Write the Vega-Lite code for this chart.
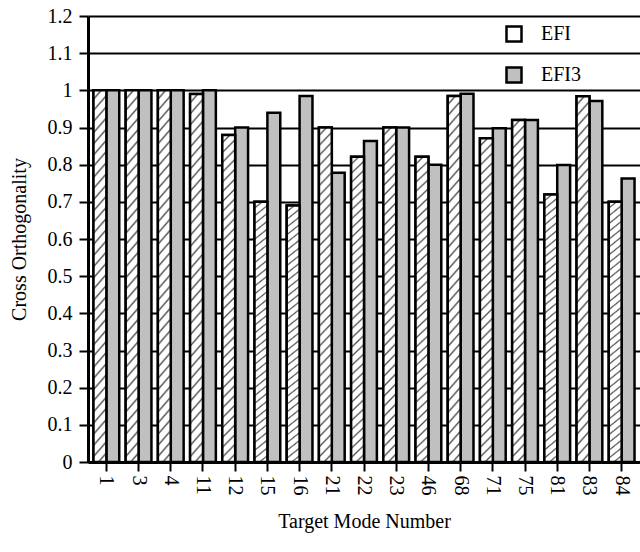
{
  "$schema": "https://vega.github.io/schema/vega-lite/v6.json",
  "width": 552,
  "height": 446,
  "autosize": "none",
  "padding": {"left": 88, "top": 16, "right": 0, "bottom": 90},
  "background": "white",
  "config": {
    "font": "Liberation Serif",
    "view": {"stroke": null},
    "axis": {
      "domainColor": "black",
      "domainWidth": 3,
      "tickColor": "black",
      "tickWidth": 2,
      "tickSize": 9,
      "labelColor": "black",
      "labelFontSize": 20,
      "labelFont": "Liberation Serif",
      "titleFont": "Liberation Serif",
      "titleFontSize": 20,
      "titleFontWeight": "normal",
      "titleColor": "black"
    }
  },
  "data": {
    "values": [
      {"mode": "1", "series": "EFI", "value": 1.0},
      {"mode": "1", "series": "EFI3", "value": 1.0},
      {"mode": "3", "series": "EFI", "value": 1.0},
      {"mode": "3", "series": "EFI3", "value": 1.0},
      {"mode": "4", "series": "EFI", "value": 1.0},
      {"mode": "4", "series": "EFI3", "value": 1.0},
      {"mode": "11", "series": "EFI", "value": 0.99},
      {"mode": "11", "series": "EFI3", "value": 1.0},
      {"mode": "12", "series": "EFI", "value": 0.88},
      {"mode": "12", "series": "EFI3", "value": 0.9},
      {"mode": "15", "series": "EFI", "value": 0.7},
      {"mode": "15", "series": "EFI3", "value": 0.94},
      {"mode": "16", "series": "EFI", "value": 0.69},
      {"mode": "16", "series": "EFI3", "value": 0.985},
      {"mode": "21", "series": "EFI", "value": 0.9},
      {"mode": "21", "series": "EFI3", "value": 0.778},
      {"mode": "22", "series": "EFI", "value": 0.821},
      {"mode": "22", "series": "EFI3", "value": 0.864},
      {"mode": "23", "series": "EFI", "value": 0.9},
      {"mode": "23", "series": "EFI3", "value": 0.9},
      {"mode": "46", "series": "EFI", "value": 0.821},
      {"mode": "46", "series": "EFI3", "value": 0.8},
      {"mode": "68", "series": "EFI", "value": 0.985},
      {"mode": "68", "series": "EFI3", "value": 0.991},
      {"mode": "71", "series": "EFI", "value": 0.871},
      {"mode": "71", "series": "EFI3", "value": 0.898},
      {"mode": "75", "series": "EFI", "value": 0.92},
      {"mode": "75", "series": "EFI3", "value": 0.92},
      {"mode": "81", "series": "EFI", "value": 0.72},
      {"mode": "81", "series": "EFI3", "value": 0.799},
      {"mode": "83", "series": "EFI", "value": 0.984},
      {"mode": "83", "series": "EFI3", "value": 0.971},
      {"mode": "84", "series": "EFI", "value": 0.7},
      {"mode": "84", "series": "EFI3", "value": 0.763}
    ]
  },
  "encoding": {
    "x": {
      "field": "mode",
      "type": "nominal",
      "sort": null,
      "scale": {"paddingInner": 0.2, "paddingOuter": 0.17},
      "axis": {
        "title": "Target Mode Number",
        "labelAngle": 90,
        "labelAlign": "left",
        "labelBaseline": "middle",
        "labelPadding": 4,
        "titlePadding": 16,
        "grid": false
      }
    },
    "xOffset": {"field": "series", "type": "nominal", "scale": {"domain": ["EFI", "EFI3"]}},
    "y": {
      "field": "value",
      "type": "quantitative",
      "scale": {"domain": [0, 1.2], "nice": false},
      "axis": {
        "title": "Cross Orthogonality",
        "values": [0, 0.1, 0.2, 0.3, 0.4, 0.5, 0.6, 0.7, 0.8, 0.9, 1.0, 1.1, 1.2],
        "format": ".2~f",
        "grid": true,
        "gridColor": "black",
        "gridWidth": 2,
        "gridOpacity": 1,
        "labelPadding": 7,
        "titlePadding": 18
      }
    }
  },
  "layer": [
    {
      "mark": {"type": "bar", "stroke": "black", "strokeWidth": 2.5},
      "encoding": {
        "fill": {
          "field": "series",
          "type": "nominal",
          "scale": {"domain": ["EFI", "EFI3"], "range": ["white", "#c0c0c0"]},
          "legend": {
            "title": null,
            "orient": "none",
            "legendX": 416,
            "legendY": 8,
            "padding": 0,
            "symbolType": "square",
            "symbolSize": 225,
            "symbolStrokeColor": "black",
            "symbolStrokeWidth": 2.5,
            "labelFontSize": 20,
            "labelFont": "Liberation Serif",
            "labelColor": "black",
            "labelOffset": 17,
            "rowPadding": 15,
            "encode": {
              "symbols": {
                "update": {
                  "stroke": {"value": "black"},
                  "strokeWidth": {"value": 2.5}
                }
              }
            }
          }
        }
      }
    },
    {
      "transform": [{"filter": "datum.series === 'EFI'"}],
      "mark": {
        "type": "bar",
        "stroke": "black",
        "strokeWidth": 2.5,
        "fill": {
          "gradient": "linear",
          "x1": 0, "y1": 0, "x2": 1, "y2": 25,
          "stops": [
            {"offset": 0, "color": "#ffffff"}, {"offset": 0.00072, "color": "#ffffff"}, {"offset": 0.00096, "color": "#555555"},
            {"offset": 0.0012, "color": "#ffffff"}, {"offset": 0.00192, "color": "#ffffff"}, {"offset": 0.00216, "color": "#555555"},
            {"offset": 0.0024, "color": "#ffffff"}, {"offset": 0.00312, "color": "#ffffff"}, {"offset": 0.00336, "color": "#555555"},
            {"offset": 0.0036, "color": "#ffffff"}, {"offset": 0.00432, "color": "#ffffff"}, {"offset": 0.00456, "color": "#555555"},
            {"offset": 0.0048, "color": "#ffffff"}, {"offset": 0.00552, "color": "#ffffff"}, {"offset": 0.00576, "color": "#555555"},
            {"offset": 0.006, "color": "#ffffff"}, {"offset": 0.00672, "color": "#ffffff"}, {"offset": 0.00696, "color": "#555555"},
            {"offset": 0.0072, "color": "#ffffff"}, {"offset": 0.00792, "color": "#ffffff"}, {"offset": 0.00816, "color": "#555555"},
            {"offset": 0.0084, "color": "#ffffff"}, {"offset": 0.00912, "color": "#ffffff"}, {"offset": 0.00936, "color": "#555555"},
            {"offset": 0.0096, "color": "#ffffff"}, {"offset": 0.01032, "color": "#ffffff"}, {"offset": 0.01056, "color": "#555555"},
            {"offset": 0.0108, "color": "#ffffff"}, {"offset": 0.01152, "color": "#ffffff"}, {"offset": 0.01176, "color": "#555555"},
            {"offset": 0.012, "color": "#ffffff"}, {"offset": 0.01272, "color": "#ffffff"}, {"offset": 0.01296, "color": "#555555"},
            {"offset": 0.0132, "color": "#ffffff"}, {"offset": 0.01392, "color": "#ffffff"}, {"offset": 0.01416, "color": "#555555"},
            {"offset": 0.0144, "color": "#ffffff"}, {"offset": 0.01512, "color": "#ffffff"}, {"offset": 0.01536, "color": "#555555"},
            {"offset": 0.0156, "color": "#ffffff"}, {"offset": 0.01632, "color": "#ffffff"}, {"offset": 0.01656, "color": "#555555"},
            {"offset": 0.0168, "color": "#ffffff"}, {"offset": 0.01752, "color": "#ffffff"}, {"offset": 0.01776, "color": "#555555"},
            {"offset": 0.018, "color": "#ffffff"}, {"offset": 0.01872, "color": "#ffffff"}, {"offset": 0.01896, "color": "#555555"},
            {"offset": 0.0192, "color": "#ffffff"}, {"offset": 0.01992, "color": "#ffffff"}, {"offset": 0.02016, "color": "#555555"},
            {"offset": 0.0204, "color": "#ffffff"}, {"offset": 0.02112, "color": "#ffffff"}, {"offset": 0.02136, "color": "#555555"},
            {"offset": 0.0216, "color": "#ffffff"}, {"offset": 0.02232, "color": "#ffffff"}, {"offset": 0.02256, "color": "#555555"},
            {"offset": 0.0228, "color": "#ffffff"}, {"offset": 0.02352, "color": "#ffffff"}, {"offset": 0.02376, "color": "#555555"},
            {"offset": 0.024, "color": "#ffffff"}, {"offset": 0.02472, "color": "#ffffff"}, {"offset": 0.02496, "color": "#555555"},
            {"offset": 0.0252, "color": "#ffffff"}, {"offset": 0.02592, "color": "#ffffff"}, {"offset": 0.02616, "color": "#555555"},
            {"offset": 0.0264, "color": "#ffffff"}, {"offset": 0.02712, "color": "#ffffff"}, {"offset": 0.02736, "color": "#555555"},
            {"offset": 0.0276, "color": "#ffffff"}, {"offset": 0.02832, "color": "#ffffff"}, {"offset": 0.02856, "color": "#555555"},
            {"offset": 0.0288, "color": "#ffffff"}, {"offset": 0.02952, "color": "#ffffff"}, {"offset": 0.02976, "color": "#555555"},
            {"offset": 0.03, "color": "#ffffff"}, {"offset": 0.03072, "color": "#ffffff"}, {"offset": 0.03096, "color": "#555555"},
            {"offset": 0.0312, "color": "#ffffff"}, {"offset": 0.03192, "color": "#ffffff"}, {"offset": 0.03216, "color": "#555555"},
            {"offset": 0.0324, "color": "#ffffff"}, {"offset": 0.03312, "color": "#ffffff"}, {"offset": 0.03336, "color": "#555555"},
            {"offset": 0.0336, "color": "#ffffff"}, {"offset": 0.03432, "color": "#ffffff"}, {"offset": 0.03456, "color": "#555555"},
            {"offset": 0.0348, "color": "#ffffff"}, {"offset": 0.03552, "color": "#ffffff"}, {"offset": 0.03576, "color": "#555555"},
            {"offset": 0.036, "color": "#ffffff"}, {"offset": 0.03672, "color": "#ffffff"}, {"offset": 0.03696, "color": "#555555"},
            {"offset": 0.0372, "color": "#ffffff"}, {"offset": 0.03792, "color": "#ffffff"}, {"offset": 0.03816, "color": "#555555"},
            {"offset": 0.0384, "color": "#ffffff"}, {"offset": 0.03912, "color": "#ffffff"}, {"offset": 0.03936, "color": "#555555"},
            {"offset": 0.0396, "color": "#ffffff"}, {"offset": 0.04032, "color": "#ffffff"}, {"offset": 0.04056, "color": "#555555"},
            {"offset": 0.0408, "color": "#ffffff"}, {"offset": 0.04152, "color": "#ffffff"}, {"offset": 0.04176, "color": "#555555"},
            {"offset": 0.042, "color": "#ffffff"}
          ]
        }
      }
    }
  ]
}
